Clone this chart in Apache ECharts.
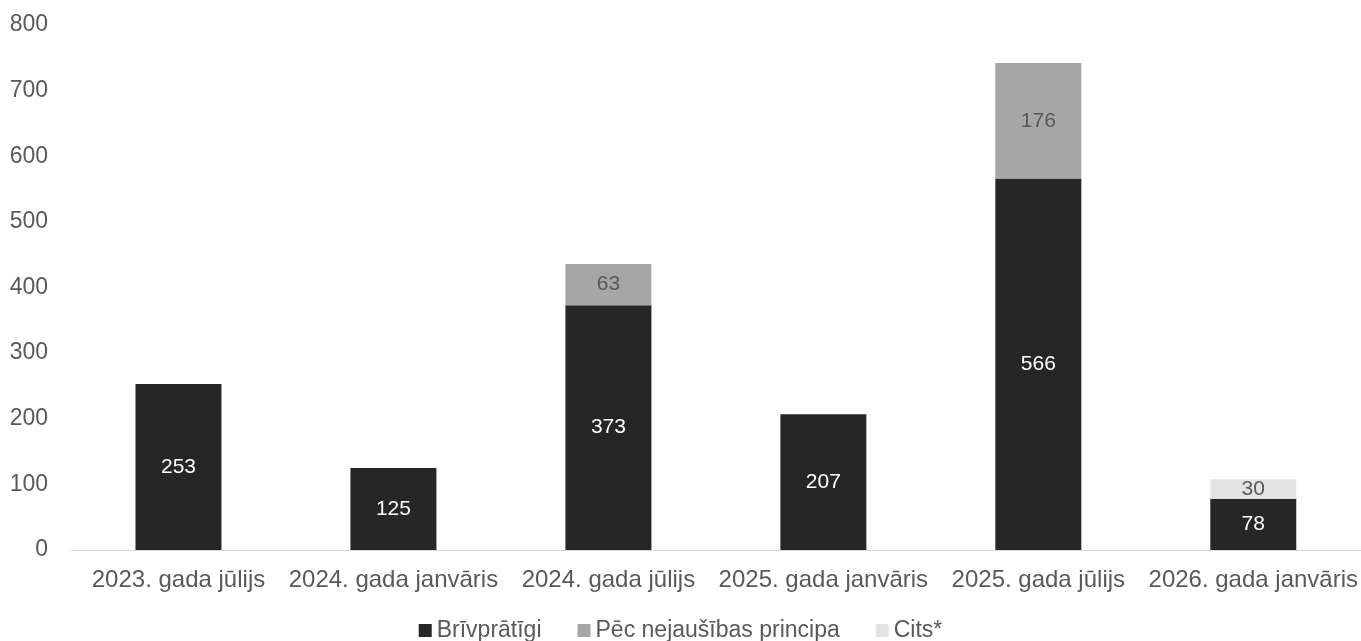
<!DOCTYPE html>
<html>
<head>
<meta charset="utf-8">
<script src="https://cdn.jsdelivr.net/npm/echarts@6/dist/echarts.min.js"></script>
<style>
  html, body { margin: 0; padding: 0; background: #fff; }
  #main { width: 1361px; height: 641px; }
</style>
</head>
<body>
<div id="main"></div>
<script>
var categories = ['2023. gada jūlijs', '2024. gada janvāris', '2024. gada jūlijs',
                  '2025. gada janvāris', '2025. gada jūlijs', '2026. gada janvāris'];
var brivpratigi = [253, 125, 373, 207, 566, 78];
var pecNejausibas = [null, null, 63, null, 176, null];
var cits = [null, null, null, null, null, 30];

var myChart = echarts.init(document.getElementById('main'));
var font = 'Liberation Sans, Arial, sans-serif';

var option = {
    backgroundColor: '#fff',
    textStyle: { fontFamily: font },
    grid: { left: 71, right: 0, top: 25, bottom: 91 },
    legend: {
        bottom: -6,
        left: 'center',
        itemWidth: 13,
        itemHeight: 13,
        itemGap: 36,
        icon: 'rect',
        textStyle: { fontSize: 23, color: '#595959', fontFamily: font },
        data: ['Brīvprātīgi', 'Pēc nejaušības principa', 'Cits*']
    },
    xAxis: {
        type: 'category',
        data: categories,
        axisLine: { lineStyle: { color: '#d9d9d9', width: 1 } },
        axisTick: { show: false },
        axisLabel: { fontSize: 24, color: '#595959', margin: 18, interval: 0 }
    },
    yAxis: {
        type: 'value',
        min: 0,
        max: 800,
        interval: 100,
        axisLine: { show: false },
        axisTick: { show: false },
        splitLine: { show: false },
        axisLabel: { fontSize: 23, color: '#595959', margin: 23 }
    },
    series: [
        {
            name: 'Brīvprātīgi',
            type: 'bar',
            stack: 'total',
            barWidth: '40%',
            data: brivpratigi,
            itemStyle: { color: '#262626' },
            label: { show: true, position: 'inside', color: '#fff', fontSize: 21 }
        },
        {
            name: 'Pēc nejaušības principa',
            type: 'bar',
            stack: 'total',
            data: pecNejausibas,
            itemStyle: { color: '#a6a6a6' },
            label: { show: true, position: 'inside', color: '#595959', fontSize: 21 }
        },
        {
            name: 'Cits*',
            type: 'bar',
            stack: 'total',
            data: cits,
            itemStyle: { color: '#e3e3e3' },
            label: { show: true, position: 'inside', color: '#595959', fontSize: 21 }
        }
    ]
};

myChart.setOption(option);
</script>
</body>
</html>
